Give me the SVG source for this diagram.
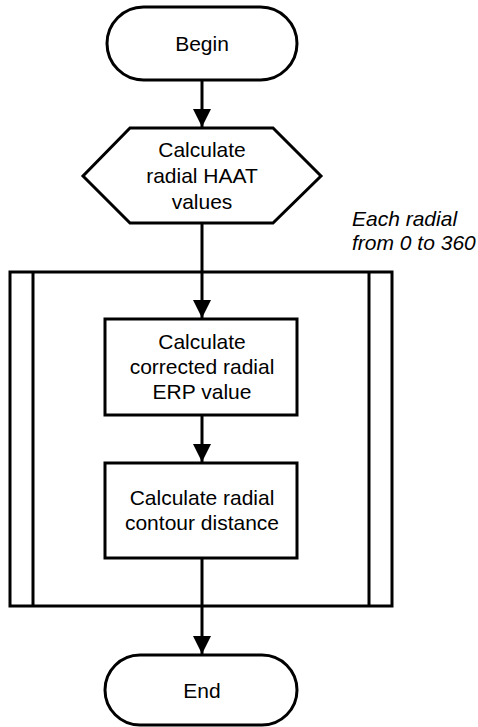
<svg xmlns="http://www.w3.org/2000/svg" width="478" height="727" viewBox="0 0 478 727">
<style>
.s{fill:#fff;stroke:#000;stroke-width:3}
.t{font-family:"Liberation Sans",Arial,sans-serif;font-size:21px;fill:#000;text-anchor:middle}
.i{font-family:"Liberation Sans",Arial,sans-serif;font-size:21px;font-style:italic;fill:#000}
.c{fill:none;stroke:#000;stroke-width:3}
</style>
<defs>
<marker id="a" markerUnits="userSpaceOnUse" markerWidth="18" markerHeight="20" refX="18" refY="9" orient="auto">
<path d="M0,0 L18,9 L0,18 Z" fill="#000"/>
</marker>
</defs>
<g id="loop">
<rect class="s" x="10" y="272" width="382" height="334"/>
<line class="c" x1="33" y1="272" x2="33" y2="606"/>
<line class="c" x1="369" y1="272" x2="369" y2="606"/>
<text class="i" x="352" y="226">Each radial</text>
<text class="i" x="352" y="250">from 0 to 360</text>
</g>
<g id="connectors">
<line class="c" x1="202" y1="80" x2="202" y2="127" marker-end="url(#a)"/>
<line class="c" x1="202" y1="223" x2="202" y2="318" marker-end="url(#a)"/>
<line class="c" x1="202" y1="415" x2="202" y2="462" marker-end="url(#a)"/>
<line class="c" x1="202" y1="558" x2="202" y2="654" marker-end="url(#a)"/>
</g>
<g id="begin">
<rect class="s" x="107" y="7" width="190" height="73" rx="36.5"/>
<text class="t" x="202" y="51">Begin</text>
</g>
<g id="haat">
<polygon class="s" points="130,128 273,128 321,176 273,223 130,223 83,176"/>
<text class="t" x="202" y="157">Calculate</text>
<text class="t" x="202" y="183">radial HAAT</text>
<text class="t" x="202" y="209">values</text>
</g>
<g id="erp">
<rect class="s" x="105" y="319" width="192" height="96"/>
<text class="t" x="202" y="349">Calculate</text>
<text class="t" x="202" y="374">corrected radial</text>
<text class="t" x="202" y="399">ERP value</text>
</g>
<g id="contour">
<rect class="s" x="105" y="463" width="192" height="95"/>
<text class="t" x="202" y="505">Calculate radial</text>
<text class="t" x="202" y="530">contour distance</text>
</g>
<g id="end">
<rect class="s" x="105" y="655" width="192" height="70" rx="35"/>
<text class="t" x="202" y="698">End</text>
</g>
</svg>
